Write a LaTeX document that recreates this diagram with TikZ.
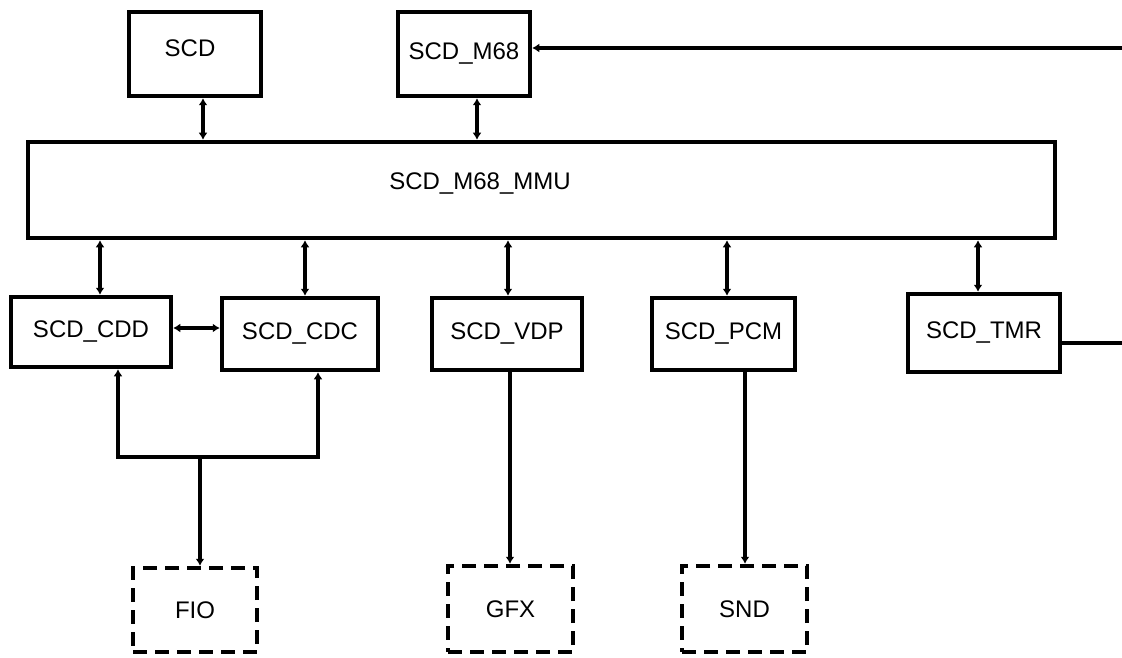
\documentclass[tikz,border=0pt]{standalone}
\usepackage{fontspec}
\setmainfont{Liberation Sans}
\usetikzlibrary{arrows.meta,positioning}
\begin{document}
\begin{tikzpicture}[x=1pt,y=-1pt,
  txt/.style={font=\fontsize{24}{28}\selectfont},
  blk/.style={draw,line width=4.5pt,minimum width=#1,inner sep=0pt,txt},
  dblk/.style={blk=#1,dash pattern=on 14pt off 8pt},
  conn/.style={line width=3.5pt,{Latex[length=7pt,width=9pt]}-{Latex[length=7pt,width=9pt]}},
  one/.style={line width=3.5pt,-{Latex[length=7pt,width=9pt]}},
  ln/.style={line width=3.5pt}]
\useasboundingbox (0,0) rectangle (1122,658);
% top row
\node[blk=132pt,minimum height=84pt] (scd) at (195,54) {};
\node[txt] (scdt) at (190,48) {SCD};
\node[blk=132pt,minimum height=84pt] (m68) at (464,54) {SCD\_M68};
% MMU
\node[draw,line width=4.5pt,minimum width=1027pt,minimum height=96pt,inner sep=0pt] (mmu) at (541.5,190) {};
\node[txt] (mmut) at (480,184) {SCD\_M68\_MMU};
% lower row
\node[blk=160pt,minimum height=70pt] (cdd) at (91,332) {SCD\_CDD};
\node[blk=156pt,minimum height=72pt] (cdc) at (300,334) {SCD\_CDC};
\node[blk=150pt,minimum height=72pt] (vdp) at (507,334) {SCD\_VDP};
\node[blk=143pt,minimum height=72pt] (pcm) at (723.5,334) {SCD\_PCM};
\node[blk=152pt,minimum height=78pt] (tmr) at (984,333) {SCD\_TMR};
% dashed bottom
\node[dblk=124pt,minimum height=84pt] (fio) at (195,610) {FIO};
\node[dblk=125pt,minimum height=86pt] (gfx) at (510.5,609) {GFX};
\node[dblk=125pt,minimum height=86pt] (snd) at (744.5,609) {SND};
% coordinates
\coordinate (rt) at (1122,48);
\coordinate (rm) at (1122,343);
\coordinate (jl) at (118,457);
\coordinate (jr) at (318,457);
\coordinate (jm) at (200,457);
% connectors
\draw[conn] (scd.south -| 203,0) -- (mmu.north -| 203,0);
\draw[conn] (m68.south -| 477,0) -- (mmu.north -| 477,0);
\draw[conn] (mmu.south -| 100,0) -- (cdd.north -| 100,0);
\draw[conn] (mmu.south -| 305,0) -- (cdc.north -| 305,0);
\draw[conn] (mmu.south -| 508,0) -- (vdp.north -| 508,0);
\draw[conn] (mmu.south -| 727,0) -- (pcm.north -| 727,0);
\draw[conn] (mmu.south -| 978,0) -- (tmr.north -| 978,0);
\draw[conn] (cdd.east |- 0,328) -- (cdc.west |- 0,328);
\draw[one] (rt) -- (m68.east |- rt);
\draw[ln] (tmr.east |- rm) -- (rm);
\draw[line width=3.5pt,line join=miter,{Latex[length=7pt,width=9pt]}-{Latex[length=7pt,width=9pt]}] (cdd.south -| jl) -- (jl) -- (jr) -- (cdc.south -| jr);
\draw[one] (jm) -- (fio.north -| jm);
\draw[one] (vdp.south -| 510,0) -- (gfx.north -| 510,0);
\draw[one] (pcm.south -| 745,0) -- (snd.north -| 745,0);
\end{tikzpicture}
\end{document}
